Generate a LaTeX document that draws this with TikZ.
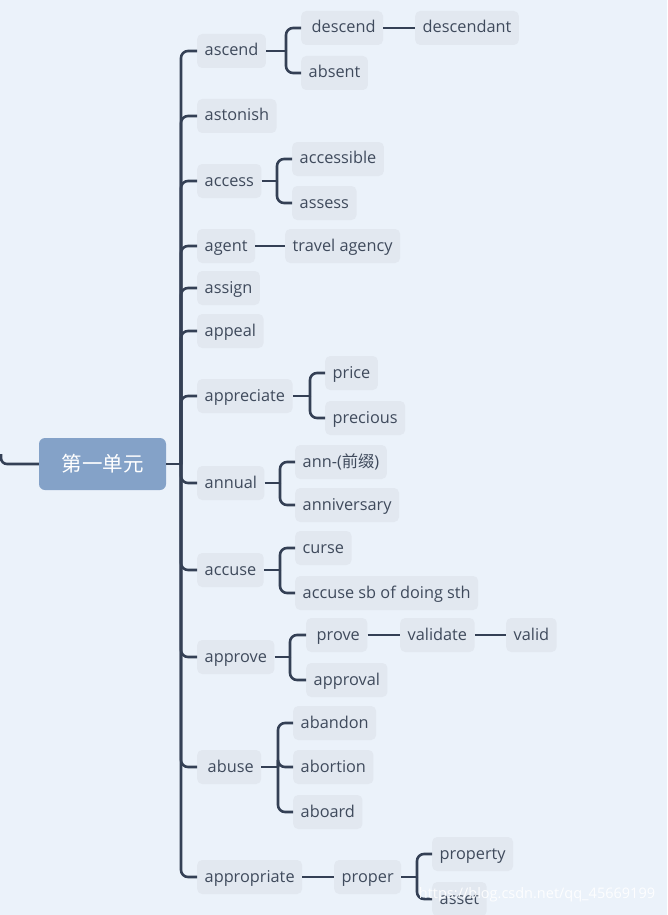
\documentclass[tikz,border=0pt]{standalone}
\usepackage{fontspec}
\setmainfont{Open Sans}
\newfontfamily\cjk{Noto Sans CJK SC}
\definecolor{bgc}{RGB}{235,242,250}
\definecolor{nodefill}{RGB}{226,232,240}
\definecolor{linec}{RGB}{52,64,85}
\definecolor{txtc}{RGB}{63,74,92}
\definecolor{rootfill}{RGB}{132,162,200}
\begin{document}
\begin{tikzpicture}[x=1pt,y=-1pt,
  word/.style={fill=nodefill,rounded corners=5pt,minimum height=34pt,inner xsep=7.5pt,inner ysep=0pt,
    text=txtc,font=\fontsize{16.3}{19}\selectfont,anchor=west,text height=13pt,text depth=3pt},
  conn/.style={draw=linec,line width=2.6pt},
  br/.style={conn,rounded corners=7pt}]
\fill[bgc] (0,0) rectangle (667,915);
\useasboundingbox (0,0) rectangle (667,915);

% root
\node[fill=rootfill,rounded corners=6pt,minimum width=127pt,minimum height=52pt,text=white,
  font=\cjk\fontsize{20.5}{24}\selectfont] (root) at (102.5,464) {第一单元};
\draw[conn,rounded corners=6pt] (1,454) |- (root.west);

% level 1
\node[word] (ascend) at (197,51) {ascend};
\node[word] (astonish) at (197,116) {astonish};
\node[word] (access) at (197,181) {access};
\node[word] (agent) at (197,246) {agent};
\node[word] (assign) at (197,288) {assign};
\node[word] (appeal) at (197,331) {appeal};
\node[word] (appreciate) at (197,396) {appreciate};
\node[word] (annual) at (197,483) {annual};
\node[word] (accuse) at (197,570) {accuse};
\node[word] (approve) at (197,657) {approve};
\node[word] (abuse) at (197,767) {\hspace{3pt}abuse};
\node[word] (appropriate) at (197,877) {appropriate};

% level 2+
\node[word] (descend) at (301,28) {\hspace{3pt}descend};
\node[word] (descendant) at (415,28) {descendant};
\node[word] (absent) at (301,73) {absent};
\node[word] (accessible) at (292,159) {accessible};
\node[word] (assess) at (292,203) {assess};
\node[word] (travel) at (285,246) {travel agency};
\node[word] (price) at (325,373) {price};
\node[word] (precious) at (325,418) {precious};
\node[word] (ann) at (295,462) {ann-({\cjk 前缀})};
\node[word] (anniv) at (295,505) {anniversary};
\node[word] (curse) at (295,548) {curse};
\node[word] (accsb) at (295,593) {accuse sb of doing sth};
\node[word] (prove) at (306,635) {\hspace{3pt}prove};
\node[word] (validate) at (400,635) {validate};
\node[word] (valid) at (506,635) {valid};
\node[word] (approval) at (306,680) {approval};
\node[word] (abandon) at (293,723) {abandon};
\node[word] (abortion) at (293,767) {abortion};
\node[word] (aboard) at (293,812) {aboard};
\node[word] (proper) at (334,877) {proper};
\node[word] (property) at (432,854) {property};
\node[word] (asset) at (432,899) {asset};

% main spine
\coordinate (sp) at (181,464);
\draw[conn] (root.east) -- (sp);
\foreach \c in {ascend,astonish,access,agent,assign,appeal,appreciate,annual,accuse,approve,abuse,appropriate}
  \draw[br] (sp) |- (\c.west);

% brackets
\coordinate (j1) at (286,51);
\draw[conn] (ascend.east) -- (j1);
\foreach \c in {descend,absent} \draw[br] (j1) |- (\c.west);
\draw[conn] (descend.east) -- (descendant.west);

\coordinate (j2) at (277,181);
\draw[conn] (access.east) -- (j2);
\foreach \c in {accessible,assess} \draw[br] (j2) |- (\c.west);

\draw[conn] (agent.east) -- (travel.west);

\coordinate (j3) at (310,396);
\draw[conn] (appreciate.east) -- (j3);
\foreach \c in {price,precious} \draw[br] (j3) |- (\c.west);

\coordinate (j4) at (280,483);
\draw[conn] (annual.east) -- (j4);
\foreach \c in {ann,anniv} \draw[br] (j4) |- (\c.west);

\coordinate (j5) at (280,570);
\draw[conn] (accuse.east) -- (j5);
\foreach \c in {curse,accsb} \draw[br] (j5) |- (\c.west);

\coordinate (j6) at (290,657);
\draw[conn] (approve.east) -- (j6);
\foreach \c in {prove,approval} \draw[br] (j6) |- (\c.west);
\draw[conn] (prove.east) -- (validate.west);
\draw[conn] (validate.east) -- (valid.west);

\coordinate (j7) at (278,767);
\draw[conn] (abuse.east) -- (j7);
\foreach \c in {abandon,abortion,aboard} \draw[br] (j7) |- (\c.west);

\draw[conn] (appropriate.east) -- (proper.west);
\coordinate (j8) at (417,877);
\draw[conn] (proper.east) -- (j8);
\foreach \c in {property,asset} \draw[br] (j8) |- (\c.west);

% watermark
\node[text=white,font=\fontsize{14.5}{16}\selectfont,opacity=0.9] (wm) at (537,895)
  {https://blog.csdn.net/qq\_45669199};
\end{tikzpicture}
\end{document}
